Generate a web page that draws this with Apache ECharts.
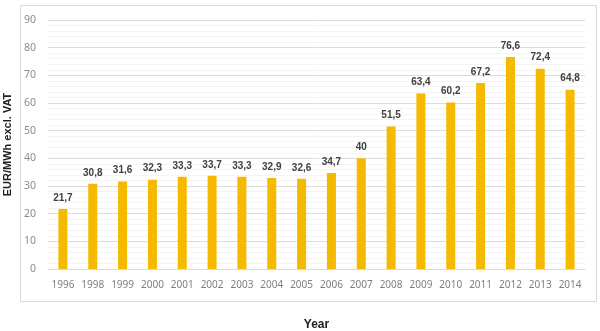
<!DOCTYPE html>
<html><head><meta charset="utf-8">
<script src="https://cdn.jsdelivr.net/npm/echarts@6/dist/echarts.min.js"></script>
<style>html,body{margin:0;padding:0;background:#fff}#c{width:600px;height:331px}</style>
</head><body><div id="c"></div>
<script>
const years = ['1996','1998','1999','2000','2001','2002','2003','2004','2005','2006','2007','2008','2009','2010','2011','2012','2013','2014'];
const prices = [21.7,30.8,31.6,32.3,33.3,33.7,33.3,32.9,32.6,34.7,40,51.5,63.4,60.2,67.2,76.6,72.4,64.8];
const yTicks = [0,10,20,30,40,50,60,70,80,90];

const chart = echarts.init(document.getElementById('c'), null, {renderer:'canvas'});
chart.setOption({
  animation:false,
  graphic:[{type:'rect', shape:{x:20.5,y:5.5,width:576,height:296}, style:{fill:'none', stroke:'#d9d9d9', lineWidth:1}, silent:true}],
  grid:{left:48, right:15, top:20, bottom:62, outerBoundsMode:'none', containLabel:false},
  xAxis:{
    type:'category', data:years,
    name:'Year', nameLocation:'middle', nameGap:50,
    nameTextStyle:{fontFamily:'Liberation Sans', fontWeight:'bold', fontSize:12, color:'#222'},
    axisLine:{show:true, lineStyle:{color:'#d9d9d9'}},
    axisTick:{show:false},
    axisLabel:{interval:0, hideOverlap:false, color:'#7f7f7f', fontFamily:'Noto Sans', fontSize:10, margin:11}
  },
  yAxis:{
    type:'value', min:yTicks[0], max:yTicks[yTicks.length-1], interval:10,
    name:'EUR/MWh excl. VAT', nameLocation:'middle', nameGap:34,
    nameTextStyle:{fontFamily:'Liberation Sans', fontWeight:'bold', fontSize:11, color:'#222'},
    axisLine:{show:false}, axisTick:{show:false},
    axisLabel:{color:'#8c8c8c', fontFamily:'Noto Sans', fontSize:10.5, margin:12},
    splitLine:{lineStyle:{color:'#dcdcdc'}},
    minorTick:{show:false, splitNumber:5},
    minorSplitLine:{show:true, lineStyle:{color:'#f4f4f4'}}
  },
  series:[{
    type:'bar', data:prices, barWidth:9,
    itemStyle:{color:'#F5BA00'},
    label:{show:true, position:'top', distance:6, color:'#404040', fontFamily:'Liberation Sans', fontWeight:'bold', fontSize:10,
      formatter:p=>String(p.value).replace('.',',')}
  }]
});
</script></body></html>
